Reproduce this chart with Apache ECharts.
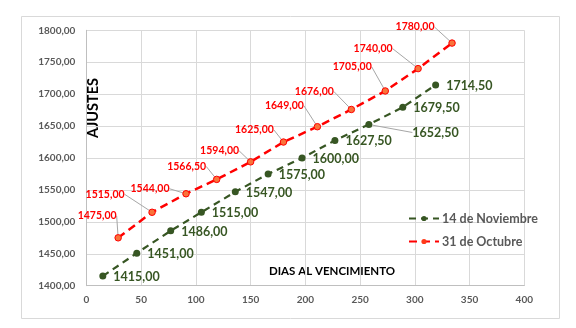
<!DOCTYPE html>
<html><head><meta charset="utf-8">
<script src="https://cdn.jsdelivr.net/npm/echarts@6/dist/echarts.min.js"></script>
<style>html,body{margin:0;padding:0;background:#fff}#c{width:576px;height:328px}</style>
</head><body><div id="c"></div>
<script>
const seriesNames = ['14 de Noviembre', '31 de Octubre'];
const novDays = [15, 46, 77, 105, 136, 166, 197, 227, 258, 289, 319];
const novValues = [1415, 1451, 1486, 1515, 1547, 1575, 1600, 1627.5, 1652.5, 1679.5, 1714.5];
const octDays = [29, 60, 91, 119, 150, 180, 211, 242, 273, 303, 334];
const octValues = [1475, 1515, 1544, 1566.5, 1594, 1625, 1649, 1676, 1705, 1740, 1780];
const xTitle = 'DIAS AL VENCIMIENTO';
const yTitle = 'AJUSTES';

// label placement (style only)
const octLabelDx = [-21, -47, -36, -30, -31, -29, -33, -37, -33, -45, -37];
const octLabelDy = [-22, -18, -5, -13, -11, -12, -21, -18, -24, -20, -16];
const novLabelDx = [0, 0, 0, 0, 0, 0, 0, 0, 33, 0, 0];
const novLabelDy = [1, 1, 1, 1, 1, 1, 1, 1, 8, 1, 1];

const GREEN = '#375623';
const RED = '#ff0000';
const FONT = 'Lato';
const fmt = v => v.toFixed(2).replace('.', ',');

const novData = novDays.map((d, i) => {
  const item = { value: [d, novValues[i]] };
  if (novLabelDx[i] !== 0) item.labelLine = { show: true };
  return item;
});
const octData = octDays.map((d, i) => [d, octValues[i]]);

const chart = echarts.init(document.getElementById('c'), null, { renderer: 'canvas' });
chart.setOption({
  animation: false,
  backgroundColor: '#fff',
  grid: { left: 86.4, right: 51.7, top: 30.3, bottom: 42.3, containLabel: false },
  xAxis: {
    type: 'value', min: 0, max: 400, interval: 50,
    axisLine: { show: true, lineStyle: { color: '#bfbfbf', width: 1 } },
    axisTick: { show: false },
    splitLine: { show: true, lineStyle: { color: '#d9d9d9', width: 1 } },
    axisLabel: { color: '#595959', fontWeight: 'bold', fontSize: 10, fontFamily: FONT, margin: 9 }
  },
  yAxis: {
    type: 'value', min: 1400, max: 1800, interval: 50,
    axisLine: { show: true, lineStyle: { color: '#bfbfbf', width: 1 } },
    axisTick: { show: false },
    splitLine: { show: true, lineStyle: { color: '#d9d9d9', width: 1 } },
    axisLabel: { color: '#595959', fontWeight: 'bold', fontSize: 10, fontFamily: FONT, margin: 11, formatter: v => fmt(v) }
  },
  legend: {
    orient: 'vertical', left: 403, top: 207, itemWidth: 30, itemHeight: 6.5, itemGap: 10,
    data: [
      { name: seriesNames[0] },
      { name: seriesNames[1], itemStyle: { borderWidth: 0, color: '#ff3a1a' } }
    ],
    textStyle: { color: '#595959', fontWeight: 'bold', fontSize: 12.5, fontFamily: FONT, padding: [0, 0, 0, -2] }
  },
  graphic: [
    { type: 'rect', silent: true, shape: { x: 21.5, y: 16.5, width: 538, height: 302 },
      style: { fill: 'none', stroke: '#d9d9d9', lineWidth: 1 } },
    { type: 'text', x: 93, y: 108, rotation: Math.PI / 2,
      style: { text: yTitle, fill: '#000', font: 'bold 14.5px Lato', textAlign: 'center', textVerticalAlign: 'middle' } },
    { type: 'text', x: 332, y: 271,
      style: { text: xTitle, fill: '#000', font: 'bold 11.5px Lato', textAlign: 'center', textVerticalAlign: 'middle' } }
  ],
  series: [
    {
      name: seriesNames[0], type: 'line', data: novData,
      symbol: 'circle', symbolSize: 7,
      itemStyle: { color: GREEN },
      lineStyle: { color: GREEN, width: 2.2, type: [7, 5] },
      label: { show: true, position: 'right', distance: 7, color: GREEN, fontWeight: 'bold', fontSize: 12.5, fontFamily: FONT,
        formatter: p => fmt(p.value[1]) },
      labelLine: { show: false, lineStyle: { color: '#a6a6a6', width: 1 } },
      labelLayout: p => ({ dx: novLabelDx[p.dataIndex], dy: novLabelDy[p.dataIndex] }),
      z: 3
    },
    {
      name: seriesNames[1], type: 'line', data: octData,
      symbol: 'circle', symbolSize: 6.5,
      itemStyle: { color: '#f9733a', borderColor: RED, borderWidth: 1 },
      lineStyle: { color: RED, width: 2.5, type: [8, 5] },
      label: { show: true, position: 'inside', color: RED, fontWeight: 'bold', fontSize: 10.5, fontFamily: FONT,
        formatter: p => fmt(p.value[1]) },
      labelLine: { show: true, lineStyle: { color: '#a6a6a6', width: 1 } },
      labelLayout: p => ({ dx: octLabelDx[p.dataIndex], dy: octLabelDy[p.dataIndex] }),
      z: 3
    }
  ]
});
</script></body></html>
